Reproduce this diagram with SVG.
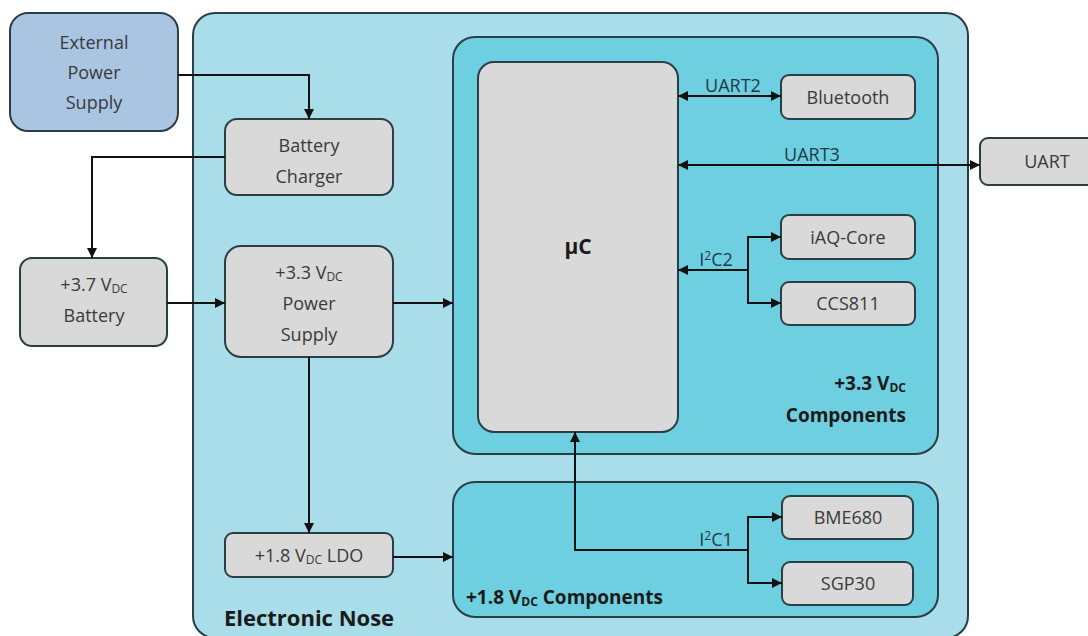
<svg xmlns="http://www.w3.org/2000/svg" width="1088" height="636" viewBox="0 0 1088 636">
<defs>
<marker id="ah" viewBox="0 0 10 10" refX="10" refY="5" markerWidth="10" markerHeight="10" markerUnits="userSpaceOnUse" orient="auto-start-reverse">
<path d="M0,0 L10,5 L0,10 z" fill="#111"/>
</marker>
<style>
text{font-family:"Open Sans","Liberation Sans",sans-serif;font-size:18px;fill:#3a3a3a;text-anchor:middle}
.box{fill:#d9d9d9;stroke:#2a3e44;stroke-width:2}
.lbl{fill:#1d3a48}
.b{font-weight:bold;fill:#1a1a1a;font-size:19px}
.sub{font-size:12px}
.con{fill:none;stroke:#111;stroke-width:2}
</style>
</defs>
<rect width="1088" height="636" fill="#ffffff"/>
<g id="electronic-nose">
<rect x="193" y="13" width="775" height="625" rx="22" fill="#a8dde9" stroke="#2a3e44" stroke-width="2"/>
<text x="309" y="626" class="b" style="font-size:22px">Electronic Nose</text>
</g>
<g id="components-33">
<rect x="453" y="37" width="485" height="417" rx="22" fill="#6ecfe0" stroke="#2a3e44" stroke-width="2"/>
<text x="906" y="390" class="b" style="text-anchor:end">+3.3 V<tspan class="sub" dy="2">DC</tspan></text>
<text x="906" y="422" class="b" style="text-anchor:end">Components</text>
</g>
<g id="components-18">
<rect x="453" y="482" width="485" height="135" rx="22" fill="#6ecfe0" stroke="#2a3e44" stroke-width="2"/>
<text x="466" y="604" class="b" style="text-anchor:start">+1.8 V<tspan class="sub" dy="2">DC</tspan><tspan dy="-2"> Components</tspan></text>
</g>
<g id="external-power-supply">
<rect x="10" y="13" width="168" height="118" rx="18" fill="#a9c5e2" stroke="#2a3e44" stroke-width="2"/>
<text x="94" y="49">External</text>
<text x="94" y="79">Power</text>
<text x="94" y="109">Supply</text>
</g>
<g id="battery-charger">
<rect x="225" y="119" width="168" height="76" rx="12" class="box"/>
<text x="309" y="152">Battery</text>
<text x="309" y="183">Charger</text>
</g>
<g id="battery">
<rect x="20" y="258" width="147" height="88" rx="12" class="box"/>
<text x="94" y="291">+3.7 V<tspan class="sub" dy="2">DC</tspan></text>
<text x="94" y="322">Battery</text>
</g>
<g id="power-supply-33">
<rect x="225" y="246" width="168" height="111" rx="16" class="box"/>
<text x="309" y="279">+3.3 V<tspan class="sub" dy="2">DC</tspan></text>
<text x="309" y="310">Power</text>
<text x="309" y="341">Supply</text>
</g>
<g id="ldo-18">
<rect x="225" y="533" width="168" height="44" rx="8" class="box"/>
<text x="309" y="562">+1.8 V<tspan class="sub" dy="2">DC</tspan><tspan dy="-2"> LDO</tspan></text>
</g>
<g id="uc">
<rect x="478" y="62" width="200" height="370" rx="16" class="box"/>
<text x="578" y="254" class="b" style="font-size:21px">µC</text>
</g>
<g id="bluetooth">
<rect x="781" y="75" width="134" height="44" rx="8" class="box"/>
<text x="848" y="104">Bluetooth</text>
</g>
<g id="uart">
<rect x="980" y="138" width="120" height="47" rx="8" class="box"/>
<text x="1047" y="168">UART</text>
</g>
<g id="iaq-core">
<rect x="781" y="215" width="134" height="44" rx="8" class="box"/>
<text x="848" y="244">iAQ-Core</text>
</g>
<g id="ccs811">
<rect x="781" y="282" width="134" height="43" rx="8" class="box"/>
<text x="848" y="310">CCS811</text>
</g>
<g id="bme680">
<rect x="782" y="496" width="131" height="43" rx="8" class="box"/>
<text x="848" y="524">BME680</text>
</g>
<g id="sgp30">
<rect x="782" y="562" width="131" height="43" rx="8" class="box"/>
<text x="848" y="590">SGP30</text>
</g>
<g id="connectors">
<path class="con" d="M178,75 H309 V119" marker-end="url(#ah)"/>
<path class="con" d="M225,157 H92 V258" marker-end="url(#ah)"/>
<path class="con" d="M167,303 H225" marker-end="url(#ah)"/>
<path class="con" d="M393,303 H453" marker-end="url(#ah)"/>
<path class="con" d="M309,357 V533" marker-end="url(#ah)"/>
<path class="con" d="M393,557 H453" marker-end="url(#ah)"/>
<path class="con" d="M678,96 H781" marker-start="url(#ah)" marker-end="url(#ah)"/>
<path class="con" d="M678,165 H980" marker-start="url(#ah)" marker-end="url(#ah)"/>
<path class="con" d="M678,270 H748"  marker-start="url(#ah)"/>
<path class="con" d="M748,237 H781" marker-end="url(#ah)"/>
<path class="con" d="M748,303 H781" marker-end="url(#ah)"/>
<path class="con" d="M748,236 V304"/>
<path class="con" d="M575,432 V550 H748" marker-start="url(#ah)"/>
<path class="con" d="M748,517 H782" marker-end="url(#ah)"/>
<path class="con" d="M748,583 H782" marker-end="url(#ah)"/>
<path class="con" d="M748,516 V584"/>
<text x="733" y="92" class="lbl">UART2</text>
<text x="812" y="161" class="lbl">UART3</text>
<text x="716" y="266" class="lbl">I<tspan class="sub" dy="-6">2</tspan><tspan dy="6">C2</tspan></text>
<text x="716" y="546" class="lbl">I<tspan class="sub" dy="-6">2</tspan><tspan dy="6">C1</tspan></text>
</g>
</svg>
